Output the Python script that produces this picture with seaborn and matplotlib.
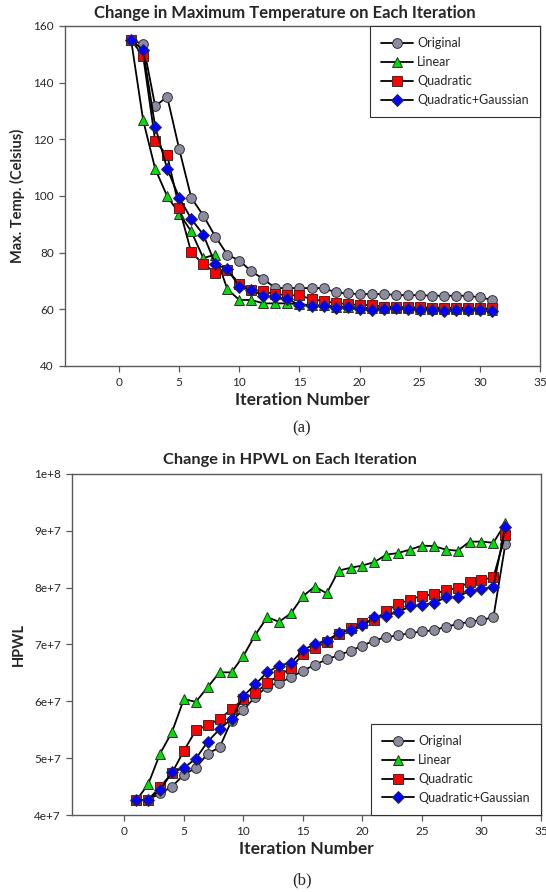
import matplotlib
matplotlib.use("Agg")
import matplotlib.pyplot as plt
import seaborn as sns
import numpy as np
from matplotlib.ticker import FuncFormatter, MultipleLocator
from matplotlib.lines import Line2D

# ---- data: max temperature per iteration (Celsius) ----
temp_iter = list(range(1, 32))
temp_original = [155, 153.6, 131.7, 135.0, 116.5, 99.4, 93.1, 85.7, 79.3, 77.2,
                 73.4, 70.7, 67.5, 67.5, 67.5, 67.5, 67.5, 66.0, 65.6, 65.4,
                 65.4, 65.4, 65.1, 65.0, 65.0, 64.8, 64.8, 64.8, 64.8, 64.2, 63.4]
temp_linear = [155, 126.7, 109.6, 99.9, 93.8, 87.5, 78.1, 79.3, 67.1, 63.3,
               63.3, 62.1, 62.1, 62.1, 61.8, 61.5, 61.4, 61.0, 61.0, 60.6,
               60.4, 60.4, 60.6, 60.4, 60.2, 60.2, 60.0, 60.0, 60.0, 60.0, 59.8]
temp_quadratic = [155, 149.4, 119.4, 114.3, 95.8, 80.1, 76.0, 73.0, 73.8, 69.1,
                  67.0, 66.3, 65.4, 65.0, 64.9, 63.6, 62.9, 62.2, 61.9, 61.5,
                  61.5, 61.0, 60.9, 60.7, 60.7, 60.6, 60.6, 60.5, 60.5, 60.4, 60.3]
temp_quad_gauss = [155, 151.5, 124.4, 109.6, 99.4, 91.9, 86.4, 76.0, 74.2, 68.0,
                   66.8, 64.8, 64.4, 63.6, 61.6, 61.1, 61.1, 60.5, 60.7, 60.0,
                   59.8, 60.0, 60.3, 60.0, 59.8, 59.8, 59.4, 59.6, 59.6, 59.6, 59.4]

# ---- data: HPWL per iteration (units of 1e7) ----
hpwl_iter = list(range(1, 33))
hpwl_original = [4.26, 4.27, 4.38, 4.50, 4.71, 4.83, 5.08, 5.19, 5.66, 5.85,
                 6.08, 6.26, 6.33, 6.42, 6.54, 6.64, 6.74, 6.81, 6.89, 6.98,
                 7.07, 7.13, 7.16, 7.20, 7.23, 7.25, 7.31, 7.36, 7.40, 7.43, 7.48, 8.76]
hpwl_linear = [4.26, 4.54, 5.08, 5.46, 6.04, 5.99, 6.25, 6.51, 6.51, 6.80,
               7.17, 7.48, 7.40, 7.55, 7.85, 8.02, 7.90, 8.30, 8.35, 8.39,
               8.45, 8.58, 8.61, 8.67, 8.74, 8.73, 8.67, 8.65, 8.81, 8.81, 8.79, 9.13]
hpwl_quadratic = [4.26, 4.27, 4.49, 4.74, 5.13, 5.49, 5.58, 5.69, 5.86, 6.04,
                  6.15, 6.32, 6.46, 6.58, 6.84, 6.94, 7.05, 7.18, 7.29, 7.37,
                  7.43, 7.59, 7.71, 7.79, 7.86, 7.88, 7.96, 7.99, 8.10, 8.14, 8.18, 8.93]
hpwl_quad_gauss = [4.26, 4.27, 4.44, 4.75, 4.83, 4.99, 5.29, 5.51, 5.69, 6.09,
                   6.30, 6.51, 6.63, 6.68, 6.90, 7.01, 7.07, 7.20, 7.25, 7.34,
                   7.48, 7.51, 7.57, 7.67, 7.70, 7.73, 7.83, 7.83, 7.95, 7.97, 8.02, 9.07]
hpwl_scale = 1e7

series_names = ["Original", "Linear", "Quadratic", "Quadratic+Gaussian"]
marker_faces = ["#8c8ca0", "#00e000", "#ff0000", "#0000ff"]
marker_shapes = ["o", "^", "s", "D"]
marker_sizes = [7, 7.5, 6.5, 6.5]

sns.set_style("white")
plt.rcParams["font.family"] = ["Lato", "DejaVu Sans"]

fig = plt.figure(figsize=(5.46, 8.92), dpi=100)
W, H = 546, 892
ax1 = fig.add_axes([65 / W, 1 - 366 / H, (540 - 65) / W, (366 - 26) / H])
ax2 = fig.add_axes([72 / W, 1 - 815 / H, (541 - 72) / W, (815 - 474) / H])


def draw_series(ax, x, ys):
    for y, name, fc, m, ms in zip(ys, series_names, marker_faces, marker_shapes, marker_sizes):
        sns.lineplot(x=x, y=y, ax=ax, color="black", linewidth=1.3, marker=m,
                     markersize=ms, markerfacecolor=fc, markeredgecolor="#303030",
                     markeredgewidth=0.7, label=name, legend=False)


def style_axes(ax):
    for side in ["left", "bottom", "top", "right"]:
        ax.spines[side].set_visible(True)
        ax.spines[side].set_color("#5a5a5a")
        ax.spines[side].set_linewidth(1.0)
    ax.tick_params(axis="both", direction="out", length=4, width=0.9,
                   color="#5a5a5a", labelsize=8.5, pad=4, left=True, bottom=True)
    ax.set_xlabel("Iteration Number", fontsize=12.5, fontweight="bold", labelpad=3)
    ax.xaxis.set_major_locator(MultipleLocator(5))


def make_legend(ax, loc):
    handles = [Line2D([], [], color="black", linewidth=1.3, marker=m, markersize=ms,
                      markerfacecolor=fc, markeredgecolor="#303030", markeredgewidth=0.7)
               for fc, m, ms in zip(marker_faces, marker_shapes, marker_sizes)]
    leg = ax.legend(handles, series_names, loc=loc, fontsize=9, frameon=True,
                    fancybox=False, framealpha=1, edgecolor="#303030",
                    borderaxespad=0, handlelength=2.6, labelspacing=0.55,
                    borderpad=0.9, handletextpad=0.3)
    leg.get_frame().set_linewidth(0.8)


# (a) maximum temperature
draw_series(ax1, temp_iter, [temp_original, temp_linear, temp_quadratic, temp_quad_gauss])
style_axes(ax1)
ax1.set_xlim(-4.5, 35)
ax1.set_ylim(40, 160)
ax1.yaxis.set_major_locator(MultipleLocator(20))
ax1.set_ylabel("Max. Temp. (Celsius)", fontsize=10.5, fontweight="bold", labelpad=6)
make_legend(ax1, "upper right")

# (b) HPWL
hpwl_sets = [np.array(v) * hpwl_scale for v in
             [hpwl_original, hpwl_linear, hpwl_quadratic, hpwl_quad_gauss]]
draw_series(ax2, hpwl_iter, hpwl_sets)
style_axes(ax2)
ax2.set_xlim(-4.4, 35)
ax2.set_ylim(4e7, 1e8)
ax2.yaxis.set_major_locator(MultipleLocator(1e7))


def sci_fmt(v, pos):
    e = int(np.floor(np.log10(v)))
    return f"{v / 10 ** e:g}e+{e}"


ax2.yaxis.set_major_formatter(FuncFormatter(sci_fmt))
ax2.set_ylabel("HPWL", fontsize=10.5, fontweight="bold", labelpad=6)
make_legend(ax2, "lower right")

# titles and panel captions
fig.text(285 / W, 1 - 13 / H, "Change in Maximum Temperature on Each Iteration",
         ha="center", va="center", fontsize=12, fontweight="bold")
fig.text(290 / W, 1 - 460 / H, "Change in HPWL on Each Iteration",
         ha="center", va="center", fontsize=11.8, fontweight="bold")
fig.text(302 / W, 1 - 428 / H, "(a)", ha="center", va="center", fontsize=12,
         family="Liberation Serif")
fig.text(302 / W, 1 - 880 / H, "(b)", ha="center", va="center", fontsize=12,
         family="Liberation Serif")

fig.savefig("out.png", dpi=100)
